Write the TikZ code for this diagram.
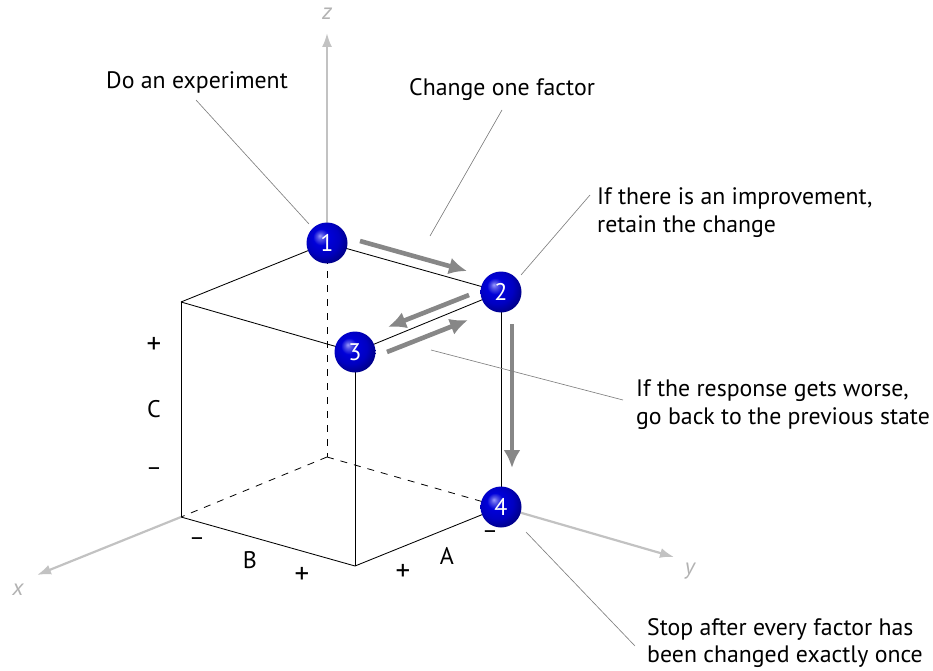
\documentclass[tikz,border=0pt]{standalone}
\usepackage{fontspec}
\setmainfont{PT Sans}
\usetikzlibrary{arrows.meta}
\pgfdeclareradialshading{bluesphere}{\pgfpoint{-9bp}{9bp}}{%
  color(0bp)=(blue!40!white);
  color(4bp)=(blue!65!white!90!black);
  color(10bp)=(blue!85!black);
  color(20bp)=(blue!76!black);
  color(30bp)=(blue!52!black);
  color(50bp)=(blue!45!black)}
\tikzset{
  every picture/.style={x=1pt,y=-1pt},
  edge3d/.style={draw=black,line width=0.85pt},
  hidden3d/.style={draw=black,line width=0.8pt,dash pattern=on 7pt off 7pt},
  axisline/.style={draw=black!24,line width=2.2pt,-{Latex[length=14pt,width=10pt]}},
  movearrow/.style={draw=black!47,line width=4.6pt,-{Latex[length=18pt,width=17pt]}},
  leader/.style={draw=black!50,line width=0.65pt},
  sphere3d/.style={circle,minimum size=41pt,inner sep=0pt,shading=bluesphere,text=white,font=\fontsize{24}{26}\selectfont},
  caption/.style={anchor=base west,inner sep=0pt,text=black,font=\fontsize{23.8}{28}\selectfont,align=left},
  signlab/.style={inner sep=0pt,text=black,font=\fontsize{24}{26}\selectfont},
  pmlab/.style={inner sep=0pt,text=black,font=\fontsize{29}{30}\selectfont},
  axislab/.style={inner sep=0pt,text=black!30,font=\fontsize{23}{25}\selectfont\rmfamily\itshape},
}
\begin{document}
\begin{tikzpicture}
\useasboundingbox (0,0) rectangle (933,671);
\coordinate (O) at (327,457);
\coordinate (LT) at (181,302);
\coordinate (LB) at (181,517);
\coordinate (FB) at (355,566);
\coordinate (P1) at (327,243);
\coordinate (P2) at (501,292);
\coordinate (P3) at (355,352);
\coordinate (P4) at (501,507);
\coordinate (Zend) at (327,33);
\coordinate (Xend) at (37,575);
\coordinate (Yend) at (674,557);
% axes
\draw[axisline] (P1) -- (Zend);
\draw[axisline] (LB) -- (Xend);
\draw[axisline] (P4) -- (Yend);
% hidden edges
\draw[hidden3d] (P1) -- (O);
\draw[hidden3d] (O) -- (LB);
\draw[hidden3d] (O) -- (P4);
% visible edges
\draw[edge3d] (P1) -- (P2);
\draw[edge3d] (P1) -- (LT);
\draw[edge3d] (LT) -- (P3);
\draw[edge3d] (P3) -- (P2);
\draw[edge3d] (LT) -- (LB);
\draw[edge3d] (LB) -- (FB);
\draw[edge3d] (FB) -- (P4);
\draw[edge3d] (P3) -- (FB);
\draw[edge3d] (P2) -- (P4);
% spheres
\node[sphere3d] (n1) at (P1) {1};
\node[sphere3d] (n2) at (P2) {2};
\node[sphere3d] (n3) at (P3) {3};
\node[sphere3d] (n4) at (P4) {4};
% move arrows
\coordinate (a1) at (360,241); \coordinate (a2) at (467,271);
\coordinate (b1) at (469,295); \coordinate (b2) at (388,327);
\coordinate (c1) at (387,352); \coordinate (c2) at (468,320);
\coordinate (d1) at (512,324); \coordinate (d2) at (512,468);
\draw[movearrow] (a1) -- (a2);
\draw[movearrow] (b1) -- (b2);
\draw[movearrow] (c1) -- (c2);
\draw[movearrow] (d1) -- (d2);
% captions
\node[caption] (t1) at (106,88.5) {Do an experiment};
\node[caption] (t2) at (409,96) {Change one factor};
\node[caption] (t3a) at (597,204.5) {If there is an improvement,};
\node[caption] (t3b) at (597,232.5) {retain the change};
\node[caption] (t4a) at (636,396) {If the response gets worse,};
\node[caption] (t4b) at (636,424) {go back to the previous state};
\node[caption] (t5a) at (647,635) {Stop after every factor has};
\node[caption] (t5b) at (647,662) {been changed exactly once};
% leaders
\coordinate (l1a) at (196,100); \coordinate (l1b) at (309,224);
\coordinate (l2a) at (502,110); \coordinate (l2b) at (430,236);
\coordinate (l3a) at (590,195); \coordinate (l3b) at (521,275);
\coordinate (l4a) at (623,400); \coordinate (l4b) at (431,350);
\coordinate (l5a) at (635,646); \coordinate (l5b) at (526,532);
\draw[leader] (l1a) -- (l1b);
\draw[leader] (l2a) -- (l2b);
\draw[leader] (l3a) -- (l3b);
\draw[leader] (l4a) -- (l4b);
\draw[leader] (l5a) -- (l5b);
% sign labels
\node[pmlab] (cp) at (154,345) {+};
\node[signlab] (cc) at (154,409) {C};
\node[signlab] (cm) at (154,472) {–};
\node[signlab] (bm) at (197,542) {–};
\node[signlab] (bb) at (250,560) {B};
\node[pmlab] (bp) at (302,575) {+};
\node[pmlab] (ap) at (403,572) {+};
\node[signlab] (aa) at (447,556) {A};
\node[signlab] (am) at (490,535) {–};
% axis labels
\node[axislab] (lz) at (327,14) {z};
\node[axislab] (lx) at (18,590) {x};
\node[axislab] (ly) at (690,571) {y};
\end{tikzpicture}
\end{document}
